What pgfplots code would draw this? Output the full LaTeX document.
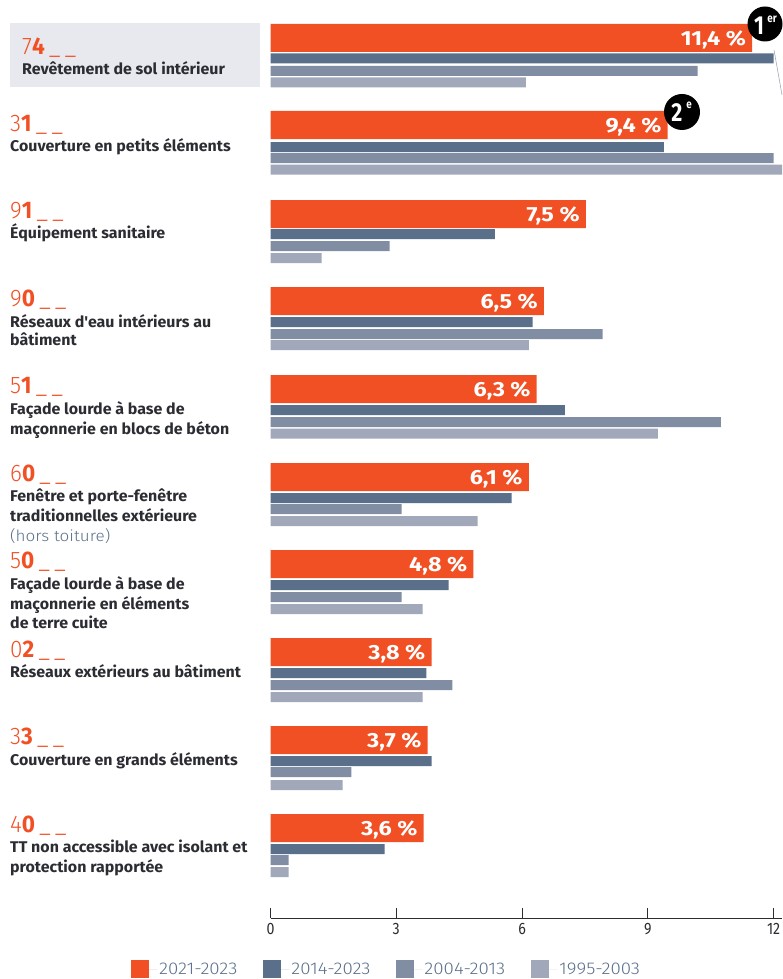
\documentclass[border=0pt]{standalone}
\usepackage{pgfplots}
\pgfplotsset{compat=1.18}
\usepackage{fontspec}
\setmainfont{Fira Sans}
\newfontfamily\labf{Fira Sans}[FakeStretch=1.03]
\newfontfamily\valf{Fira Sans}[FakeStretch=1.14]
\newfontfamily\badf{Fira Sans}[FakeStretch=0.82]
\newfontfamily\numf{Fira Sans Light}[FakeStretch=0.94,BoldFont={Fira Sans Bold}]
\newfontfamily\tickf{Fira Sans}[FakeStretch=0.86]
\newfontfamily\legf{Fira Sans Light}[FakeStretch=1.1]
\definecolor{c1}{HTML}{F15025}
\definecolor{c2}{HTML}{5A6F8A}
\definecolor{c3}{HTML}{808DA3}
\definecolor{c4}{HTML}{A0A8BA}
\definecolor{txt}{HTML}{2B2D33}
\newcommand{\code}[4]{\node[anchor=base west,inner sep=0pt,text=c1,font=\numf\fontsize{24}{24}\selectfont] at (#1,#2) {#3\textbf{#4}\,\_\,\_};}
\newcommand{\lab}[3]{\node[anchor=base west,inner sep=0pt,text=txt,font=\labf\bfseries\fontsize{15.5}{16}\selectfont] at (#1,#2+1) {#3};}
\begin{document}
\begin{tikzpicture}
\useasboundingbox (0,0) rectangle (782pt,979pt);
\begin{scope}[x=1pt,y=-1pt,shift={(0,979pt)}]
\fill[color={rgb,255:red,232;green,233;blue,238}] (10,23) rectangle (260,87);
\end{scope}
\begin{axis}[
  at={(270.5pt,61pt)},anchor=south west,
  scale only axis,width=511.5pt,height=918pt,
  xmin=0,xmax=12.2,ymin=0,ymax=918,y dir=reverse,
  axis x line*=bottom,axis y line=none,
  xtick={0,3,6,9,12},
  tick align=inside,
  major tick length=10pt,
  x axis line style={-,line width=1pt,color=txt},
  xtick style={line width=0.7pt,color=txt},
  x tick label style={font=\tickf\fontsize{16.5}{17}\selectfont,text=txt,yshift=-2pt},
  /pgf/number format/assume math mode=true,
  xbar,
  bar shift=0pt,
  clip=true,
  legend columns=4,
  legend style={at={(-139.5pt,-969pt)},anchor=west,draw=none,fill=none,
    font=\legf\fontsize{17}{17}\selectfont,text=c2,
    inner sep=0pt,
    /tikz/every even column/.append style={column sep=24pt}},
  legend cell align=left,
  legend image code/.code={\fill[#1] (0pt,-9pt) rectangle (18pt,9pt);\path (0pt,0pt) -- (26pt,0pt);},
]
\addplot[draw=none,fill=c1,bar width=28pt,
  point meta=explicit symbolic,
  nodes near coords,
  nodes near coords style={anchor=east,xshift=-4pt,yshift=-1.5pt,text=white,inner sep=2pt,font=\valf\bfseries\fontsize{20.5}{21}\selectfont},
] coordinates {
 (11.49,38) [11,4 \%]
 (9.47,125) [9,4 \%]
 (7.52,214) [7,5 \%]
 (6.52,301) [6,5 \%]
 (6.35,389) [6,3 \%]
 (6.16,477) [6,1 \%]
 (4.84,564) [4,8 \%]
 (3.84,652) [3,8 \%]
 (3.75,740) [3,7 \%]
 (3.65,828) [3,6 \%]
};
\addlegendentry{2021-2023}
\addplot[draw=none,fill=c2,bar width=10pt] coordinates {
 (12.00,58.5) (9.38,147) (5.35,234) (6.25,322) (7.02,410) (5.75,498) (4.25,585) (3.72,673) (3.84,761) (2.72,849)
};
\addlegendentry{2014-2023}
\addplot[draw=none,fill=c3,bar width=10pt] coordinates {
 (10.19,71) (12.00,158) (2.84,246) (7.92,334) (10.74,422) (3.13,509) (3.13,597) (4.34,685) (1.93,772) (0.43,860)
};
\addlegendentry{2004-2013}
\addplot[draw=none,fill=c4,bar width=10pt] coordinates {
 (6.09,82.5) (12.30,169.5) (1.22,258) (6.16,345) (9.24,433.5) (4.94,521) (3.63,609) (3.63,697) (1.72,785) (0.43,872)
};
\addlegendentry{1995-2003}
\end{axis}
\begin{scope}[x=1pt,y=-1pt,shift={(0,979pt)}]
\draw[c4,line width=0.6pt] (774,50) -- (782,95);
\fill[black] (765,24) circle (17.5pt);
\fill[black] (682,112) circle (18pt);
\node[text=white,font=\badf\bfseries\fontsize{26}{26}\selectfont,inner sep=0pt] at (759,26) {1};
\node[text=white,font=\badf\bfseries\fontsize{12}{12}\selectfont,inner sep=0pt] at (772,19) {er};
\node[text=white,font=\badf\bfseries\fontsize{26}{26}\selectfont,inner sep=0pt] at (677,113) {2};
\node[text=white,font=\badf\bfseries\fontsize{12}{12}\selectfont,inner sep=0pt] at (689,105) {e};
\code{22}{55}{7}{4}
\lab{22}{74}{Revêtement de sol intérieur}
\code{10}{132}{3}{1}
\lab{10}{151}{Couverture en petits éléments}
\code{10}{219}{9}{1}
\lab{10}{238}{Équipement sanitaire}
\code{10}{307}{9}{0}
\lab{10}{327}{Réseaux d'eau intérieurs au}
\lab{10}{345}{bâtiment}
\code{10}{394}{5}{1}
\lab{10}{414}{Façade lourde à base de}
\lab{10}{434}{maçonnerie en blocs de béton}
\code{10}{482}{6}{0}
\lab{10}{501}{Fenêtre et porte-fenêtre}
\lab{10}{521}{traditionnelles extérieure}
\node[anchor=base west,inner sep=0pt,text=c2,font=\legf\fontsize{15.5}{16}\selectfont] at (10,542) {(hors toiture)};
\code{10}{569}{5}{0}
\lab{10}{589}{Façade lourde à base de}
\lab{10}{609}{maçonnerie en éléments}
\lab{10}{628}{de terre cuite}
\code{10}{658}{0}{2}
\lab{10}{677}{Réseaux extérieurs au bâtiment}
\code{10}{745}{3}{3}
\lab{10}{765}{Couverture en grands éléments}
\code{10}{833}{4}{0}
\lab{10}{852}{TT non accessible avec isolant et}
\lab{10}{872}{protection rapportée}
\end{scope}
\end{tikzpicture}
\end{document}
